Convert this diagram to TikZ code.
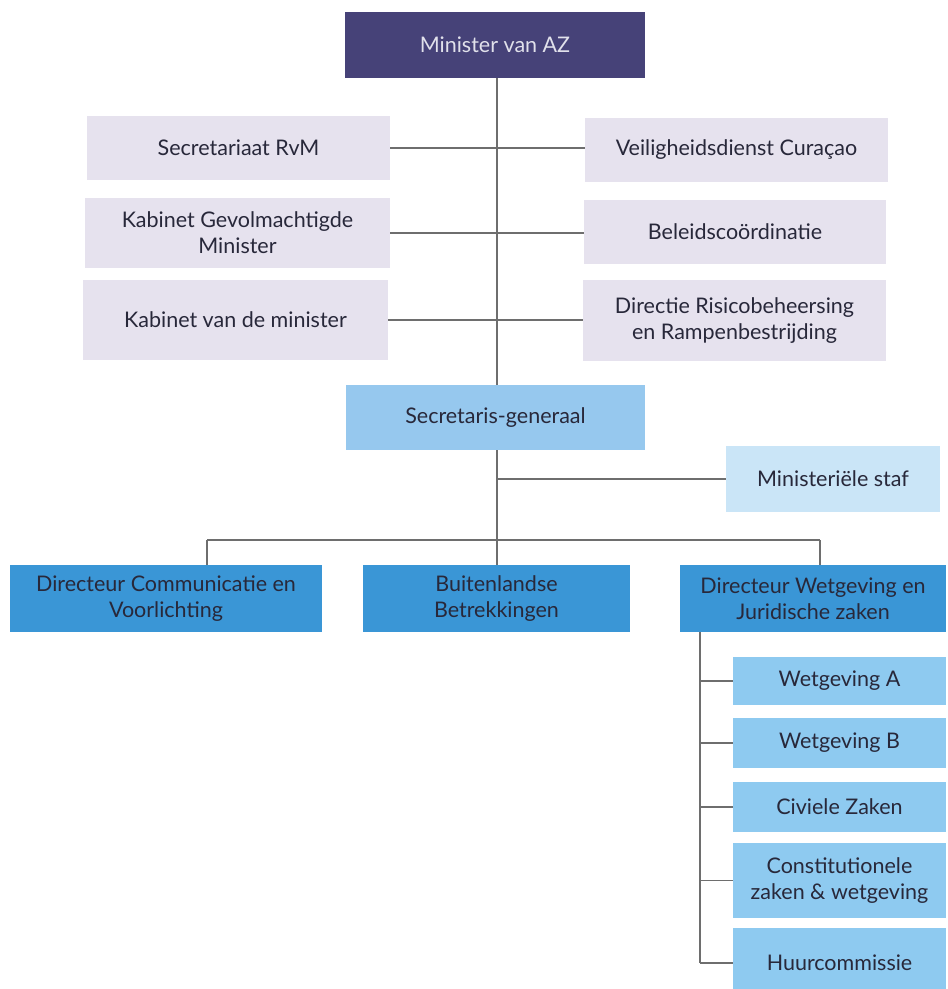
\documentclass[tikz,border=0pt]{standalone}
\usepackage{fontspec}
\setmainfont{Lato}
\definecolor{purplebox}{RGB}{70,66,120}
\definecolor{lavbox}{RGB}{230,226,238}
\definecolor{sgblue}{RGB}{150,200,238}
\definecolor{staffblue}{RGB}{202,229,247}
\definecolor{darkblue}{RGB}{58,150,214}
\definecolor{subblue}{RGB}{142,202,240}
\definecolor{txt}{RGB}{40,40,58}
\definecolor{lighttxt}{RGB}{225,225,235}
\definecolor{linegray}{RGB}{110,110,110}
\begin{document}
\begin{tikzpicture}[x=1pt,y=-1pt,
  box/.style={inner sep=0pt, align=center, text=txt, font=\fontsize{21.5}{26}\selectfont},
  conn/.style={draw=linegray, line width=1.1pt}]
\useasboundingbox[fill=white] (0,0) rectangle (948,989);
% top
\node[box, fill=purplebox, text=lighttxt, minimum width=300pt, minimum height=66pt] (min) at (495,45) {Minister van AZ};
% left column
\node[box, fill=lavbox, minimum width=303pt, minimum height=64pt] (sec) at (238.5,148) {Secretariaat RvM};
\node[box, fill=lavbox, minimum width=305pt, minimum height=70pt] (kgm) at (237.5,233) {Kabinet Gevolmachtigde\\Minister};
\node[box, fill=lavbox, minimum width=305pt, minimum height=80pt] (kvm) at (235.5,320) {Kabinet van de minister};
% right column
\node[box, fill=lavbox, minimum width=303pt, minimum height=64pt] (vdc) at (736.5,150) {Veiligheidsdienst Curaçao};
\node[box, fill=lavbox, minimum width=302pt, minimum height=64pt] (bel) at (735,232) {Beleidscoördinatie};
\node[box, fill=lavbox, minimum width=303pt, minimum height=81pt] (drr) at (734.5,320.5) {Directie Risicobeheersing\\en Rampenbestrijding};
% SG and staff
\node[box, fill=sgblue, minimum width=299pt, minimum height=65pt] (sg) at (495.5,417.5) {Secretaris-generaal};
\node[box, fill=staffblue, minimum width=214pt, minimum height=66pt] (ms) at (833,479) {Ministeriële staf};
% directors
\node[box, fill=darkblue, minimum width=312pt, minimum height=67pt] (dcv) at (166,598.5) {Directeur Communicatie en\\Voorlichting};
\node[box, fill=darkblue, minimum width=267pt, minimum height=67pt] (bb) at (496.5,598.5) {Buitenlandse\\Betrekkingen};
\node[box, fill=darkblue, minimum width=266pt, minimum height=67pt] (dwj) at (813,598.5) {Directeur Wetgeving en\\Juridische zaken};
% sub units
\node[box, fill=subblue, minimum width=213pt, minimum height=48pt] (wa) at (839.5,681) {Wetgeving A};
\node[box, fill=subblue, minimum width=213pt, minimum height=50pt] (wb) at (839.5,743) {Wetgeving B};
\node[box, fill=subblue, minimum width=213pt, minimum height=50pt] (cz) at (839.5,807) {Civiele Zaken};
\node[box, fill=subblue, minimum width=213pt, minimum height=75pt] (cw) at (839.5,880.5) {Constitutionele\\zaken \& wetgeving};
\node[box, fill=subblue, minimum width=213pt, minimum height=70pt] (hc) at (839.5,963) {Huurcommissie};
% coordinates
\coordinate (top) at (497,78);
\coordinate (b1) at (207,540);
\coordinate (b2) at (820,540);
\coordinate (v0) at (700,632);
\coordinate (v1) at (700,963);
% connectors
\draw[conn] (top) -- (top |- sg.north);
\draw[conn] (sec.east) -- (sec.east -| vdc.west);
\draw[conn] (kgm.east) -- (kgm.east -| bel.west);
\draw[conn] (kvm.east) -- (kvm.east -| drr.west);
\draw[conn] (top |- sg.south) -- (top |- bb.north);
\draw[conn] (top |- ms.west) -- (ms.west);
\draw[conn] (b1) -- (b2);
\draw[conn] (b1) -- (b1 |- dcv.north);
\draw[conn] (b2) -- (b2 |- dwj.north);
\draw[conn] (v0) -- (v1);
\draw[conn] (v0 |- wa.west) -- (wa.west);
\draw[conn] (v0 |- wb.west) -- (wb.west);
\draw[conn] (v0 |- cz.west) -- (cz.west);
\draw[conn] (v0 |- cw.west) -- (cw.west);
\draw[conn] (v1) -- (hc.west);
\end{tikzpicture}
\end{document}
